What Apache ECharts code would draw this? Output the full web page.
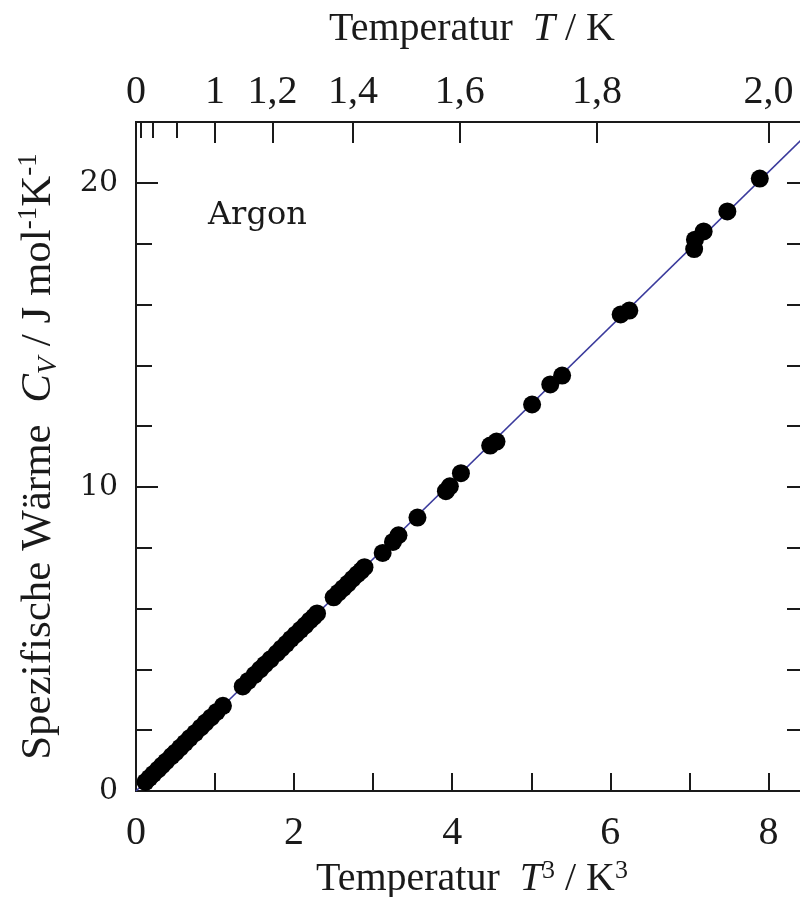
<!DOCTYPE html>
<html>
<head>
<meta charset="utf-8">
<script src="https://cdn.jsdelivr.net/npm/echarts@6/dist/echarts.min.js"></script>
<style>html,body{margin:0;padding:0;background:#fff}#c{width:800px;height:897px}</style>
</head>
<body>
<div id="c"></div>
<script>
// Measured points: T^3 (K^3) and C_V (J mol^-1 K^-1)
const pointsT3 = [0.12,0.17,0.22,0.28,0.33,0.38,0.45,0.50,0.56,0.62,0.68,0.75,0.82,0.88,0.95,1.02,1.10,
  1.35,1.42,1.50,1.57,1.63,1.70,1.78,1.84,1.90,1.96,2.02,2.08,2.14,2.20,2.25,2.29,
  2.50,2.56,2.62,2.68,2.74,2.80,2.85,2.89,
  3.12,3.25,3.32,3.56,3.92,3.97,4.11,4.48,4.56,5.01,5.24,5.39,6.13,6.24,7.06,7.07,7.18,7.48,7.89];
const pointsCv = [0.30,0.43,0.56,0.71,0.84,0.97,1.15,1.27,1.43,1.58,1.74,1.91,2.09,2.25,2.42,2.60,2.80,
  3.44,3.62,3.82,4.00,4.16,4.33,4.53,4.69,4.84,5.00,5.15,5.30,5.45,5.61,5.73,5.84,
  6.37,6.52,6.67,6.82,6.98,7.13,7.25,7.36,
  7.83,8.19,8.41,8.99,9.86,10.02,10.45,11.36,11.49,12.71,13.37,13.66,15.67,15.80,17.82,18.13,18.40,19.06,20.14];
// Fitted straight line (endpoints)
const fitT3 = [0, 8.5];
const fitCv = [0, 21.63];
// Top axis (temperature T in K)
const topShortTickT = [0.4, 0.6, 0.8];
const topLongTickT = [1.0, 1.2, 1.4, 1.6, 1.8, 2.0];
const topLabelT = [0, 1.0, 1.2, 1.4, 1.6, 1.8, 2.0];
const topLabelText = ['0', '1', '1,2', '1,4', '1,6', '1,8', '2,0'];
const bottomLabelValues = [0, 2, 4, 6, 8];
const leftLabelValues = [0, 10, 20];

const cube = t => t * t * t;
const serif = 'Liberation Serif';
const ink = '#1a1a1a';
const axisLine = {show: true, onZero: false, lineStyle: {color: ink, width: 2}};

const chart = echarts.init(document.getElementById('c'));
const common = {min: 0, max: 8.5, type: 'value', splitLine: {show: false}, axisLine: axisLine};
chart.setOption({
  animation: false,
  backgroundColor: '#fff',
  grid: {left: 136, top: 122, width: 672, height: 669, containLabel: false, outerBoundsMode: 'none'},
  xAxis: [
    Object.assign({}, common, {
      position: 'bottom', interval: 1,
      axisTick: {inside: true, length: 18, lineStyle: {color: ink, width: 2}},
      axisLabel: {margin: 22, fontFamily: serif, fontSize: 40, color: ink,
        formatter: v => bottomLabelValues.indexOf(v) >= 0 ? String(v) : ''},
      name: 'Temperatur  {i|T}{sup|3} / K{sup|3}',
      nameLocation: 'middle', nameGap: 63,
      nameTextStyle: {fontFamily: serif, fontSize: 40, color: ink, lineHeight: 44,
        rich: {i: {fontFamily: serif, fontStyle: 'italic', fontSize: 40, lineHeight: 44, color: ink},
               sup: {fontFamily: serif, fontSize: 26, lineHeight: 28, verticalAlign: 'top', color: ink}}}
    }),
    Object.assign({}, common, {
      position: 'top',
      axisTick: {inside: true, length: 16, customValues: topShortTickT.map(cube), lineStyle: {color: ink, width: 2}},
      axisLabel: {show: false}
    }),
    Object.assign({}, common, {
      position: 'top',
      axisTick: {inside: true, length: 21, customValues: topLongTickT.map(cube), lineStyle: {color: ink, width: 2}},
      axisLabel: {margin: 10, fontFamily: serif, fontSize: 40, color: ink,
        customValues: topLabelT.map(cube),
        formatter: v => {
          let best = 0;
          topLabelT.forEach((t, i) => { if (Math.abs(cube(t) - v) < Math.abs(cube(topLabelT[best]) - v)) best = i; });
          return topLabelText[best];
        }},
      name: 'Temperatur  {i|T} / K',
      nameLocation: 'middle', nameGap: 73,
      nameTextStyle: {fontFamily: serif, fontSize: 40, color: ink,
        rich: {i: {fontFamily: serif, fontStyle: 'italic', fontSize: 40, color: ink}}}
    })
  ],
  yAxis: [
    {type: 'value', min: 0, max: 22, interval: 2, position: 'left', splitLine: {show: false}, axisLine: axisLine,
      axisTick: {inside: true, length: 16, lineStyle: {color: ink, width: 2}}, axisLabel: {show: false}},
    {type: 'value', min: 0, max: 22, interval: 10, position: 'left', splitLine: {show: false}, axisLine: axisLine,
      axisTick: {inside: true, length: 22, lineStyle: {color: ink, width: 2}},
      axisLabel: {margin: 18, fontFamily: 'DejaVu Serif', fontSize: 30, color: ink,
        formatter: v => leftLabelValues.indexOf(v) >= 0 ? String(v) : ''},
      name: 'Spezifische Wärme  {i|C}{sub|V} / J mol{sup|-1}K{sup|-1}',
      nameLocation: 'middle', nameRotate: 90, nameGap: 73,
      nameTextStyle: {fontFamily: serif, fontSize: 43, color: ink, lineHeight: 48,
        rich: {i: {fontFamily: serif, fontStyle: 'italic', fontSize: 43, lineHeight: 48, color: ink},
               sub: {fontFamily: serif, fontStyle: 'italic', fontSize: 28, lineHeight: 29, verticalAlign: 'bottom', color: ink},
               sup: {fontFamily: serif, fontSize: 27, lineHeight: 29, verticalAlign: 'top', color: ink}}}
    },
    {type: 'value', min: 0, max: 22, interval: 2, position: 'right', splitLine: {show: false}, axisLine: axisLine,
      axisTick: {inside: true, length: 21, lineStyle: {color: ink, width: 2}}, axisLabel: {show: false}}
  ],
  graphic: [{type: 'text', left: 208, top: 200,
    style: {text: 'Argon', font: '32px "DejaVu Serif"', fill: ink}}],
  series: [
    {type: 'line', xAxisIndex: 0, yAxisIndex: 0, data: fitT3.map((x, i) => [x, fitCv[i]]),
      symbol: 'none', lineStyle: {color: '#3a3a9c', width: 1.6}, z: 1},
    {type: 'scatter', xAxisIndex: 0, yAxisIndex: 0, data: pointsT3.map((x, i) => [x, pointsCv[i]]),
      symbol: 'circle', symbolSize: 18, itemStyle: {color: '#000', opacity: 1}, z: 2}
  ]
});
</script>
</body>
</html>
